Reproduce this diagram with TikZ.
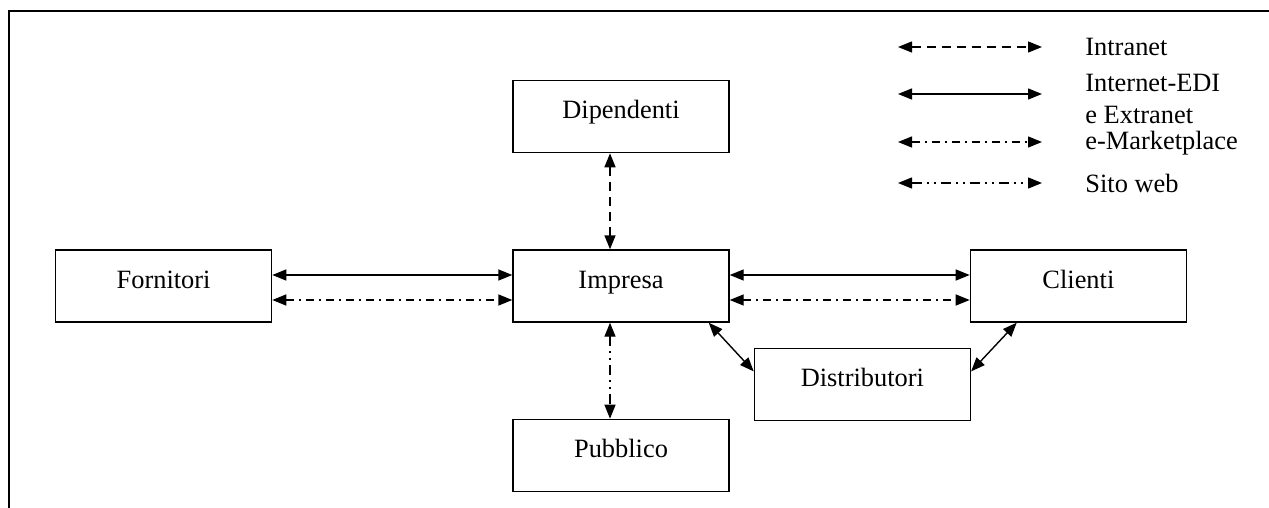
\documentclass[tikz,border=0pt]{standalone}
\usepackage{fontspec}
\setmainfont{Liberation Serif}
\usetikzlibrary{positioning,arrows.meta}

\begin{document}
\begin{tikzpicture}[
  every node/.style={font=\fontsize{13.2}{16}\selectfont},
  box/.style={draw=black, line width=0.7pt, minimum width=108pt, minimum height=36pt, inner sep=0pt, text height=8pt, text depth=6pt},
  lbl/.style={anchor=west, inner sep=0pt, align=left},
  arr/.style={{Triangle[length=7pt,width=5.5pt]}-{Triangle[length=7pt,width=5.5pt]}, line width=0.7pt, draw=black},
  intra/.style={arr, dash pattern=on 4.5pt off 3pt},
  edi/.style={arr},
  mkt/.style={arr, dash pattern=on 4pt off 2.5pt on 1pt off 2.5pt},
  web/.style={arr, dash pattern=on 5pt off 2.5pt on 1pt off 2.5pt on 1pt off 2.5pt}
]
% Frame and page size
\useasboundingbox (0pt,0pt) rectangle (634.5pt,-254pt);
\draw[line width=1pt] (4.5pt,-254pt) -- (4.5pt,-5.5pt) -- (634.5pt,-5.5pt);

% Centre: Impresa
\node[box] (imp) at (310.5pt,-143pt) {Impresa};

% Around it
\node[box, above=48pt of imp] (dip) {Dipendenti};
\node[box, below=48pt of imp] (pub) {Pubblico};
\node[box, left=120pt of imp] (forn) {Fornitori};
\node[box, right=120pt of imp] (cli) {Clienti};
\node[box, below right=12.5pt and 12pt of imp] (dist) {Distributori};

% Legend
\node[lbl] (lintra) at (542.5pt,-23.5pt) {Intranet};
\node[lbl] (ledi) at (542.5pt,-49.5pt) {Internet-EDI\\e Extranet};
\node[lbl] (lmkt) at (542.5pt,-71.5pt) {e-Marketplace};
\node[lbl] (lweb) at (542.5pt,-91.5pt) {Sito web};
\coordinate (ia) at (449pt,-23.5pt);  \coordinate (ib) at (521pt,-23.5pt);
\coordinate (ea) at (449pt,-47pt);    \coordinate (eb) at (521pt,-47pt);
\coordinate (ma) at (449pt,-71pt);    \coordinate (mb) at (521pt,-71pt);
\coordinate (wa) at (449pt,-91.5pt);  \coordinate (wb) at (521pt,-91.5pt);
\draw[intra] (ia) -- (ib);
\draw[edi] (ea) -- (eb);
\draw[mkt] (ma) -- (mb);
\draw[web] (wa) -- (wb);

% Connections
\draw[edi] ([yshift=5.5pt]forn.east) -- ([yshift=5.5pt]forn.east -| imp.west);
\draw[mkt] ([yshift=-7pt]forn.east) -- ([yshift=-7pt]forn.east -| imp.west);
\draw[edi] ([yshift=5.5pt]imp.east) -- ([yshift=5.5pt]imp.east -| cli.west);
\draw[mkt] ([yshift=-7pt]imp.east) -- ([yshift=-7pt]imp.east -| cli.west);
\draw[intra] ([xshift=-5.5pt]dip.south) -- ([xshift=-5.5pt]imp.north);
\draw[web] ([xshift=-5.5pt]imp.south) -- ([xshift=-5.5pt]pub.north);
\draw[edi] ([xshift=-10.5pt]imp.south east) -- ([yshift=6.5pt]dist.west);
\draw[edi] ([yshift=6.5pt]dist.east) -- ([xshift=23.5pt]cli.south west);
\end{tikzpicture}
\end{document}
